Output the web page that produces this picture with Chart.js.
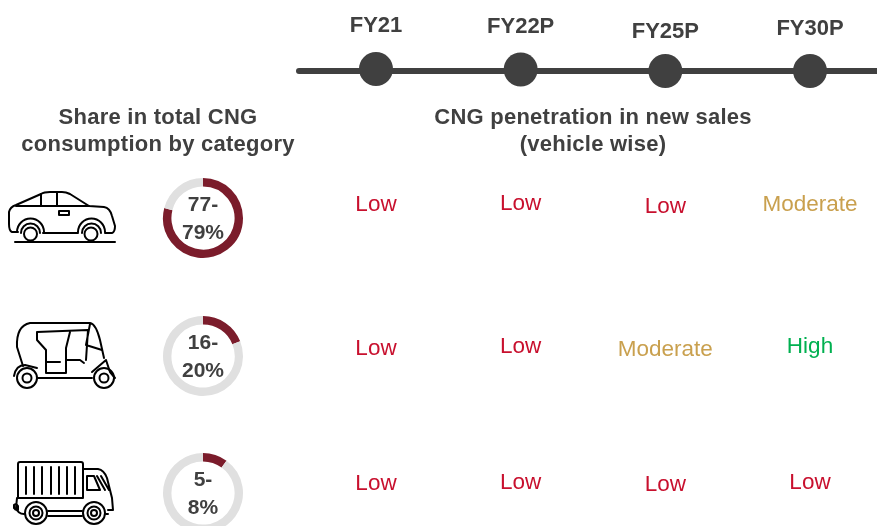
<!DOCTYPE html>
<html><head><meta charset="utf-8">
<script src="https://cdn.jsdelivr.net/npm/chart.js@4"></script>
<style>
html,body{margin:0;padding:0;width:877px;height:526px;overflow:hidden;background:#fff}
canvas{position:absolute}
svg{position:absolute;left:0;top:0}
svg *{fill:none;stroke:#000;stroke-width:2;stroke-linejoin:round;stroke-linecap:round}
.box{position:absolute;width:90px;height:90px}
</style></head><body>
<div id="main" style="position:absolute;left:0;top:0;width:877px;height:526px"><canvas id="c0"></canvas></div>
<svg width="877" height="526" viewBox="0 0 877 526">
  <!-- car -->
  <path d="M18 232H12Q9 231 9 224V212Q10 207 16 205L41 194Q44 192 50 192H62Q66 192 70 194L89 206L104 207Q110 208 112 216L115 226Q115 232 112 233H105"/>
  <path d="M16 206H89M41 194V206M57 192V206M43 233H78"/>
  <path d="M17 232A13.500 13.500 0 0 1 44 232M21 233A9.500 9.500 0 0 1 40 233M78 232A13.500 13.500 0 0 1 105 232M82 233A9.500 9.500 0 0 1 101 233"/>
  <circle cx="30.500" cy="234" r="6.500"/><circle cx="91" cy="234" r="6.500"/>
  <path d="M59 211H69V215H59Z"/><path d="M15 242H115"/>
  <!-- auto -->
  <path d="M23 366L17 347Q16 326 30 323L90 323Q96 324 100 340L104 358"/>
  <path d="M37 332L37 340L46 350V373H66V348L70 332M37 332L88 330L86 360M90 324L86 345L102 350"/>
  <path d="M46 362H60M66 360H80L84 363"/>
  <path d="M14 376Q16 365 25 365L37 368M38 378H92M92 372L106 360L110 372L115 378"/>
  <circle cx="27" cy="378" r="10"/><circle cx="27" cy="378" r="4.500"/>
  <circle cx="104" cy="378" r="10"/><circle cx="104" cy="378" r="4.500"/>
  <!-- truck -->
  <path d="M18 498V464Q18 462 20 462H81Q83 462 83 464V498H18Z"/>
  <path d="M26 467V494M34 467V494M42 467V494M51 467V494M59 467V494M67 467V494M75 467V494" />
  <path d="M83 469H98Q104 470 107 478L112 498L113 510H108M87 476H94L100 490H87ZM97 476L105 490M101 476L109 490"/>
  <path d="M20 498H17L16 508Q18 514 24 514M48 511H82M48 516H82M106 514H108"/>
  <path d="M14 505Q16 503 18 506L18 510Q15 510 14 508Z"/>
  <circle cx="36" cy="513" r="11"/><circle cx="36" cy="513" r="6.500"/><circle cx="36" cy="513" r="3"/>
  <circle cx="94" cy="513" r="11"/><circle cx="94" cy="513" r="6.500"/><circle cx="94" cy="513" r="3"/>
</svg>
<div class="box" style="left:158px;top:173px"><canvas id="d0"></canvas></div>
<div class="box" style="left:158px;top:311px"><canvas id="d1"></canvas></div>
<div class="box" style="left:158px;top:448px"><canvas id="d2"></canvas></div>
<script>
// ---- data ----
const years = ["FY21", "FY22P", "FY25P", "FY30P"];
const vehicles = ["Car", "Three-wheeler", "Truck"];
const shareLabels = [["77-", "79%"], ["16-", "20%"], ["5-", "8%"]];
const shareDrawn = [79, 19, 10];
const ratingsCar = ["Low", "Low", "Low", "Moderate"];
const ratingsAuto = ["Low", "Low", "Moderate", "High"];
const ratingsTruck = ["Low", "Low", "Low", "Low"];
const leftHeading = ["Share in total CNG", "consumption by category"];
const rightHeading = ["CNG penetration in new sales", "(vehicle wise)"];

// ---- styling / layout ----
const DARK = "#404040", MAROON = "#7b1c2b", TRACK = "#e0e0e0";
const ratingColor = { Low: "#c8102e", Moderate: "#c9a04e", High: "#00b050" };
const yearDy = [25.5, 26.5, 31.5, 28.5];
const pointDy = [-2, -1.5, 0, 0];
const rowDy = [[-3.5, -5, -2, -3.5], [3, 1, 4, 1], [0, -1, 1, -1]];
const X_PX = 144.67, X0 = 376, Y0 = 71, Y_PX = 137.5;
const lineStart = (299 - X0) / X_PX, lineEnd = (880 - X0) / X_PX;
const rows = [ratingsCar, ratingsAuto, ratingsTruck];

const textPlugin = {
  id: "texts",
  afterDatasetsDraw(chart) {
    const { ctx, scales: { x, y } } = chart;
    ctx.save();
    ctx.textAlign = "center"; ctx.textBaseline = "middle";
    ctx.fillStyle = DARK; ctx.font = "bold 22px 'Liberation Sans', Arial, sans-serif";
    years.forEach((t, i) => ctx.fillText(t, x.getPixelForValue(i), yearDy[i]));
    ctx.letterSpacing = "0.25px";
    leftHeading.forEach((t, i) => ctx.fillText(t, 158, 118 + 27 * i));
    rightHeading.forEach((t, i) => ctx.fillText(t, 593, 118 + 27 * i));
    ctx.letterSpacing = "0px";
    ctx.font = "22.5px 'Liberation Sans', Arial, sans-serif";
    rows.forEach((row, r) => row.forEach((t, i) => {
      ctx.fillStyle = ratingColor[t];
      ctx.fillText(t, x.getPixelForValue(i), y.getPixelForValue(r + 1) + rowDy[r][i]);
    }));
    ctx.restore();
  }
};

new Chart(document.getElementById("c0"), {
  type: "scatter",
  data: { datasets: [
    { type: "line", data: [{ x: lineStart, y: 0 }, { x: lineEnd, y: 0 }], borderColor: DARK, borderWidth: 6, pointRadius: 0, borderCapStyle: "round" },
    { data: years.map((_, i) => ({ x: i, y: pointDy[i] / Y_PX })), backgroundColor: DARK, borderColor: DARK, pointRadius: 17, pointBorderWidth: 0 }
  ] },
  options: {
    responsive: true, maintainAspectRatio: false, animation: false,
    layout: { padding: 0, autoPadding: false },
    plugins: { legend: { display: false }, tooltip: { enabled: false } },
    scales: {
      x: { type: "linear", display: false, min: -X0 / X_PX, max: (877 - X0) / X_PX },
      y: { type: "linear", display: false, reverse: true, min: -Y0 / Y_PX, max: (526 - Y0) / Y_PX }
    }
  },
  plugins: [textPlugin]
});

vehicles.forEach((name, i) => {
  new Chart(document.getElementById("d" + i), {
    type: "doughnut",
    data: { labels: [name, "Other"], datasets: [{ data: [shareDrawn[i], 100 - shareDrawn[i]], backgroundColor: [MAROON, TRACK], borderWidth: 0 }] },
    options: {
      responsive: true, maintainAspectRatio: false, animation: false,
      cutout: "79%", layout: { padding: 5 },
      plugins: { legend: { display: false }, tooltip: { enabled: false } }
    },
    plugins: [{
      id: "centre",
      afterDatasetsDraw(chart) {
        const { ctx } = chart;
        const a = chart.getDatasetMeta(0).data[0];
        ctx.save();
        ctx.textAlign = "center"; ctx.textBaseline = "middle";
        ctx.fillStyle = DARK; ctx.font = "bold 21px 'Liberation Sans', Arial, sans-serif";
        ctx.fillText(shareLabels[i][0], a.x, a.y - 13);
        ctx.fillText(shareLabels[i][1], a.x, a.y + 15);
        ctx.restore();
      }
    }]
  });
});
</script>
</body></html>
